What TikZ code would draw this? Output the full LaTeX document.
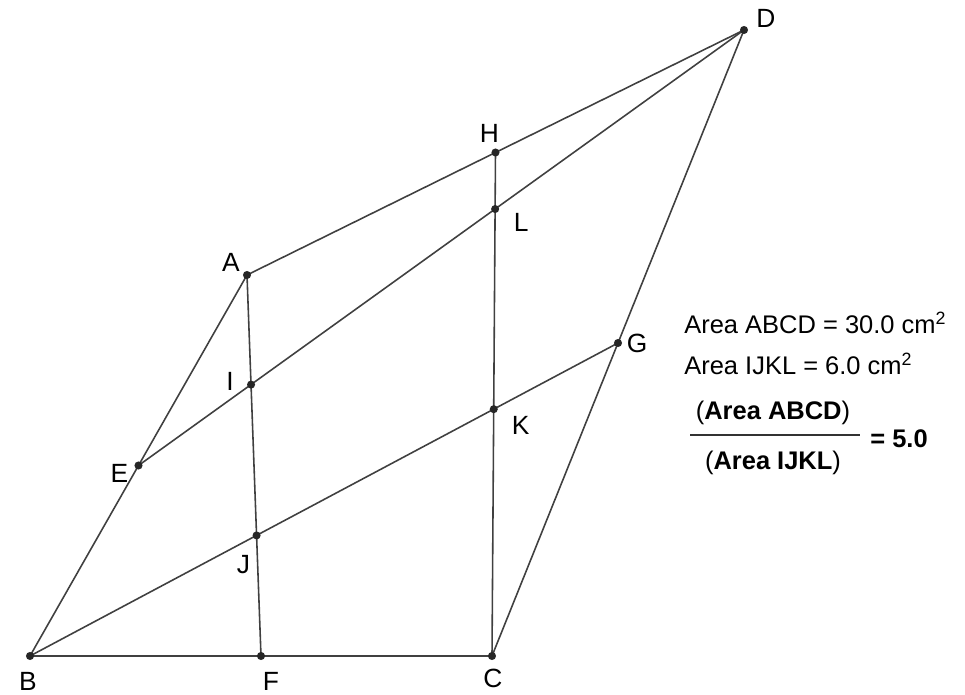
\documentclass[tikz,border=0pt]{standalone}
\usepackage{fontspec}
\setmainfont{Liberation Sans}
\usetikzlibrary{calc}

\begin{document}
\begin{tikzpicture}[x=0.02cm, y=-0.02cm,
    edge/.style={black!75, line width=0.9pt},
    pt/.style={fill=black!85},
    lbl/.style={font=\fontsize{15}{17}\selectfont, inner sep=0pt},
    txt/.style={font=\fontsize{14.5}{17}\selectfont, anchor=west, inner sep=0pt}]
  \useasboundingbox (0,0) rectangle (965,695);
  % corners of ABCD
  \coordinate (A) at (247,275);
  \coordinate (B) at (30,656);
  \coordinate (C) at (492,656);
  \coordinate (D) at (744,30);
  % midpoints of the sides
  \coordinate (E) at ($(A)!0.5!(B)$);
  \coordinate (F) at ($(B)!0.5!(C)$);
  \coordinate (G) at ($(C)!0.5!(D)$);
  \coordinate (H) at ($(D)!0.5!(A)$);
  % inner quadrilateral
  \coordinate (I) at (intersection of A--F and E--D);
  \coordinate (J) at (intersection of A--F and B--G);
  \coordinate (K) at (intersection of H--C and B--G);
  \coordinate (L) at (intersection of H--C and E--D);
  \draw[edge] (A) -- (B) -- (C) -- (D) -- cycle;
  \draw[edge] (A) -- (F);
  \draw[edge] (H) -- (C);
  \draw[edge] (E) -- (D);
  \draw[edge] (B) -- (G);
  \foreach \p in {A,B,C,D,E,F,G,H,I,J,K,L}
    \fill[pt] (\p) circle (2.3pt);
  \node[lbl] (lA) at ($(A)+(-16,-13)$) {A};
  \node[lbl] (lB) at ($(B)+(-2,25)$) {B};
  \node[lbl] (lC) at ($(C)+(1,22)$) {C};
  \node[lbl] (lD) at ($(D)+(22,-12)$) {D};
  \node[lbl] (lE) at ($(E)+(-19,8)$) {E};
  \node[lbl] (lF) at ($(F)+(10,25)$) {F};
  \node[lbl] (lG) at ($(G)+(19,0)$) {G};
  \node[lbl] (lH) at ($(H)+(-6,-19)$) {H};
  \node[lbl] (lI) at ($(I)+(-21,-3)$) {I};
  \node[lbl] (lJ) at ($(J)+(-13,29)$) {J};
  \node[lbl] (lK) at ($(K)+(27,16)$) {K};
  \node[lbl] (lL) at ($(L)+(26,13)$) {L};
  % areas and ratio
  \node[txt] (areaABCD) at (684,323) {Area ABCD = 30.0 cm\textsuperscript{2}};
  \node[txt] (areaIJKL) at (684,364) {Area IJKL = 6.0 cm\textsuperscript{2}};
  \node[txt, anchor=center] (num) at (773,413) {{\mdseries(}\textbf{Area ABCD}{\mdseries)}};
  \node[txt, anchor=center] (den) at (773,463) {{\mdseries(}\textbf{Area IJKL}{\mdseries)}};
  \coordinate (barL) at (690,435);
  \coordinate (barR) at (860,435);
  \draw[black!80, line width=1.3pt] (barL) -- (barR);
  \node[txt] (ratio) at (870,439) {\textbf{= 5.0}};
\end{tikzpicture}
\end{document}
